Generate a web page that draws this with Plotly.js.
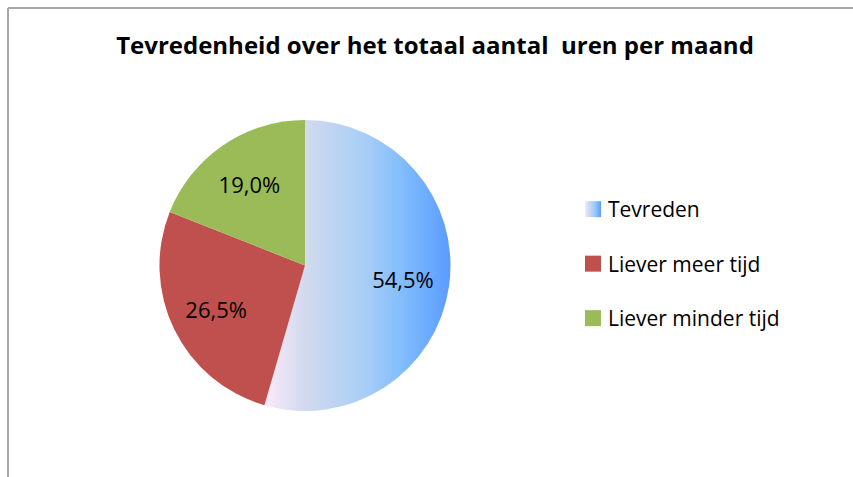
<!DOCTYPE html>
<html><head><meta charset="utf-8">
<script src="https://cdn.plot.ly/plotly-3.0.1.min.js"></script>
<style>html,body{margin:0;padding:0;background:#fff;} #chart{width:853px;height:477px;}</style>
</head><body><div id="chart"></div>
<script>
const categories = ['Tevreden', 'Liever meer tijd', 'Liever minder tijd'];
const values = [54.5, 26.5, 19.0];
const colors = ['#8fc2fb', '#c0504d', '#9bbb59'];
const titleText = 'Tevredenheid over het totaal aantal  uren per maand';

const W = 853, H = 477;
const FONT = '"Open Sans", "Noto Sans", sans-serif';

const trace = {
  type: 'pie', labels: categories, values: values, sort: false,
  direction: 'clockwise', rotation: 0,
  marker: {colors: colors, line: {width: 0}},
  texttemplate: '%{percent:.1%}', textposition: 'inside',
  insidetextorientation: 'horizontal',
  textfont: {family: FONT, size: 22, color: '#000'},
  hoverinfo: 'label+percent',
  domain: {x: [159 / W, 451 / W], y: [1 - 411 / H, 1 - 120 / H]}
};

const layout = {
  width: W, height: H, autosize: false,
  margin: {l: 0, r: 0, t: 0, b: 0},
  paper_bgcolor: '#fff', plot_bgcolor: '#fff',
  separators: ',.',
  font: {family: FONT, color: '#000'},
  title: {text: '<b>' + titleText + '</b>', font: {family: FONT, size: 24, color: '#000'},
          x: 435 / W, xanchor: 'center', xref: 'container', y: 1 - 46 / H, yanchor: 'middle', yref: 'container'},
  showlegend: true,
  legend: {x: 568 / W, y: 1 - 189 / H, xanchor: 'left', yanchor: 'top',
           font: {family: FONT, size: 21, color: '#000'}, bgcolor: 'rgba(0,0,0,0)'},
  shapes: [
    {type: 'line', xref: 'paper', yref: 'paper', x0: 8 / W, x1: 1, y0: 1 - 8 / H, y1: 1 - 8 / H, line: {color: '#a6a6a6', width: 2}},
    {type: 'line', xref: 'paper', yref: 'paper', x0: 8 / W, x1: 8 / W, y0: 0, y1: 1 - 8 / H, line: {color: '#a6a6a6', width: 2}}
  ]
};

Plotly.newPlot('chart', [trace], layout, {staticPlot: true}).then(function (gd) {
  const ns = 'http://www.w3.org/2000/svg';
  const svg = gd.querySelector('svg.main-svg');
  let defs = svg.querySelector('defs');
  if (!defs) { defs = document.createElementNS(ns, 'defs'); svg.insertBefore(defs, svg.firstChild); }
  const grad = document.createElementNS(ns, 'linearGradient');
  grad.setAttribute('id', 'tevGrad');
  grad.setAttribute('x1', '0'); grad.setAttribute('y1', '0');
  grad.setAttribute('x2', '1'); grad.setAttribute('y2', '0');
  [[0, '#fbeafb'], [0.2, '#d5dbef'], [0.55, '#a6cdf6'], [0.75, '#80bcfc'], [1, '#5b9bff']].forEach(function (s) {
    const st = document.createElementNS(ns, 'stop');
    st.setAttribute('offset', s[0]); st.setAttribute('stop-color', s[1]);
    grad.appendChild(st);
  });
  defs.appendChild(grad);
  const slices = gd.querySelectorAll('g.slice path.surface');
  if (slices[0]) slices[0].style.fill = 'url(#tevGrad)';

  // place slice labels along each slice's bisector (Excel style), from the data
  try {
    const cd = gd.calcdata[0];
    const cx = cd[0].cx, cy = cd[0].cy, r = cd[0].r;
    const total = values.reduce(function (a, b) { return a + b; }, 0);
    const svgRect = svg.getBoundingClientRect();
    const texts = gd.querySelectorAll('g.slice g.slicetext text');
    let cum = 0;
    texts.forEach(function (t, i) {
      const mid = (cum + values[i] / 2) / total * 2 * Math.PI;
      cum += values[i];
      const tx = cx + 0.68 * r * Math.sin(mid);
      const ty = cy - 0.68 * r * Math.cos(mid);
      const b = t.getBoundingClientRect();
      const curX = b.left + b.width / 2 - svgRect.left;
      const curY = b.top + b.height / 2 - svgRect.top;
      const old = t.getAttribute('transform') || '';
      t.setAttribute('transform', 'translate(' + (tx - curX) + ',' + (ty - curY) + ') ' + old);
    });
  } catch (e) {}

  gd.querySelectorAll('g.legend [clip-path]').forEach(function (el) { el.removeAttribute('clip-path'); });
  const legend = gd.querySelector('g.legend');
  if (legend) legend.removeAttribute('clip-path');
  const items = gd.querySelectorAll('g.legend g.traces');
  const m0 = /translate\(([-\d.]+)[ ,]+([-\d.]+)\)/.exec(items.length ? (items[0].getAttribute('transform') || '') : '');
  const y0 = m0 ? parseFloat(m0[2]) : 0;
  items.forEach(function (g, i) {
    const m = /translate\(([-\d.]+)[ ,]+([-\d.]+)\)/.exec(g.getAttribute('transform') || '');
    const x = m ? parseFloat(m[1]) : 0;
    g.setAttribute('transform', 'translate(' + x + ',' + (y0 + i * 54.5) + ')');
    const p = g.querySelector('.legendpoints path');
    if (p) {
      p.setAttribute('d', 'M8,8H-8V-8H8Z');
      p.setAttribute('transform', 'translate(25,0)');
      if (i === 0) p.style.fill = 'url(#tevGrad)';
    }
  });
});
</script>
</body></html>
